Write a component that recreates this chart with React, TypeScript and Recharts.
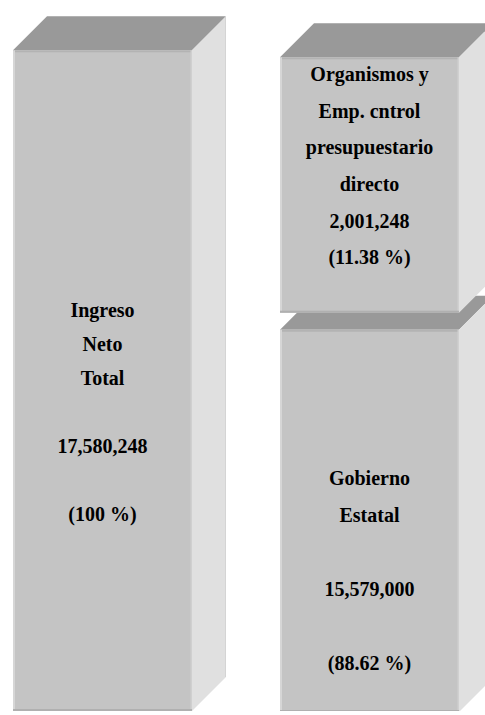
import React from "react";
import { BarChart, Bar, XAxis, YAxis } from "recharts";

// datos del diagrama (miles de pesos)
const categories = ["Ingreso neto total", "Distribución"];
const ingresoNeto = [17580248, 0];
const gobiernoEstatal = [0, 15579000];
const organismos = [0, 2001248];

const tituloIngreso = ["Ingreso", "Neto", "Total"];
const tituloGobierno = ["Gobierno", "Estatal"];
const tituloOrganismos = ["Organismos y", "Emp. cntrol", "presupuestario", "directo"];

const TOTAL = Math.max(...ingresoNeto);

const data = categories.map((name, i) => ({
  name,
  ingreso: ingresoNeto[i],
  gobierno: gobiernoEstatal[i],
  organismos: organismos[i],
}));

// layout
const W = 534;
const H = 715;
const MARGIN = { top: 7, right: 0, bottom: 4, left: 0 };
const PLOT_BOTTOM = H - MARGIN.bottom;
const DEPTH = 34;

const FRONT = "#c4c4c4";
const TOP = "#999999";
const SIDE = "#e0e0e0";
const FONT = "'Liberation Serif', 'Times New Roman', serif";

const pct = (v: number) => (v === TOTAL ? "100" : ((v / TOTAL) * 100).toFixed(2));

type BlockCfg = {
  titulo: string[];
  spaced: boolean;
  insetTop: number;
  insetBottom: number;
  firstLine: number;
  lineGap: number;
};

function makeShape(key: string, cfg: BlockCfg) {
  return (p: any) => {
    const value = p.payload?.[key];
    if (!value || !(p.height > 0)) return null;
    const x = p.x;
    const w = p.width;
    const top = p.y + cfg.insetTop;
    const bottom = Math.min(p.y + p.height, PLOT_BOTTOM) - cfg.insetBottom;
    const h = bottom - top;
    const cx = x + w / 2;

    const lines = cfg.spaced
      ? [...cfg.titulo, "", value.toLocaleString("en-US"), "", `(${pct(value)} %)`]
      : [...cfg.titulo, value.toLocaleString("en-US"), `(${pct(value)} %)`];

    return (
      <g>
        {/* cara superior */}
        <polygon
          points={`${x},${top} ${x + DEPTH},${top - DEPTH} ${x + w + DEPTH},${top - DEPTH} ${x + w},${top}`}
          fill={TOP}
        />
        {/* cara lateral */}
        <polygon
          points={`${x + w},${top} ${x + w + DEPTH},${top - DEPTH} ${x + w + DEPTH},${bottom - DEPTH} ${x + w},${bottom}`}
          fill={SIDE}
        />
        <line x1={x + w + DEPTH - 0.5} y1={top - DEPTH} x2={x + w + DEPTH - 0.5} y2={bottom - DEPTH} stroke="#d4d4d4" />
        {/* frente */}
        <rect x={x} y={top} width={w} height={h} fill={FRONT} />
        <rect x={x} y={top} width={w} height={2} fill="#b3b3b3" />
        <rect x={x} y={top} width={2} height={h} fill="#d6d6d6" />
        <rect x={x + w - 1.5} y={top} width={1.5} height={h} fill="#d0d0d0" />
        <rect x={x} y={bottom - 2} width={w} height={2} fill="#b0b0b0" />
        {lines.map((t, i) =>
          t ? (
            <text
              key={i}
              x={cx}
              y={top + cfg.firstLine + i * cfg.lineGap}
              textAnchor="middle"
              fontFamily={FONT}
              fontWeight="bold"
              fontSize={20}
              fill="#000"
            >
              {t}
            </text>
          ) : null,
        )}
      </g>
    );
  };
}

export default function App() {
  return (
    <div style={{ position: "absolute", left: 0, top: 0, width: 485, height: 715, overflow: "hidden", background: "#fff" }}>
      <div style={{ marginLeft: -31 }}>
        <BarChart width={W} height={H} data={data} margin={MARGIN} barSize={179}>
          <XAxis dataKey="name" hide />
          <YAxis type="number" hide domain={[12700000, 17900000]} allowDataOverflow />
          <Bar
            dataKey="ingreso"
            stackId="a"
            isAnimationActive={false}
            shape={makeShape("ingreso", {
              titulo: tituloIngreso,
              spaced: true,
              insetTop: 0,
              insetBottom: 0,
              firstLine: 267,
              lineGap: 34,
            })}
          />
          <Bar
            dataKey="gobierno"
            stackId="a"
            isAnimationActive={false}
            shape={makeShape("gobierno", {
              titulo: tituloGobierno,
              spaced: true,
              insetTop: 8.5,
              insetBottom: -1,
              firstLine: 155,
              lineGap: 37,
            })}
          />
          <Bar
            dataKey="organismos"
            stackId="a"
            isAnimationActive={false}
            shape={makeShape("organismos", {
              titulo: tituloOrganismos,
              spaced: false,
              insetTop: 7,
              insetBottom: 8.5,
              firstLine: 24,
              lineGap: 36.6,
            })}
          />
        </BarChart>
      </div>
    </div>
  );
}
